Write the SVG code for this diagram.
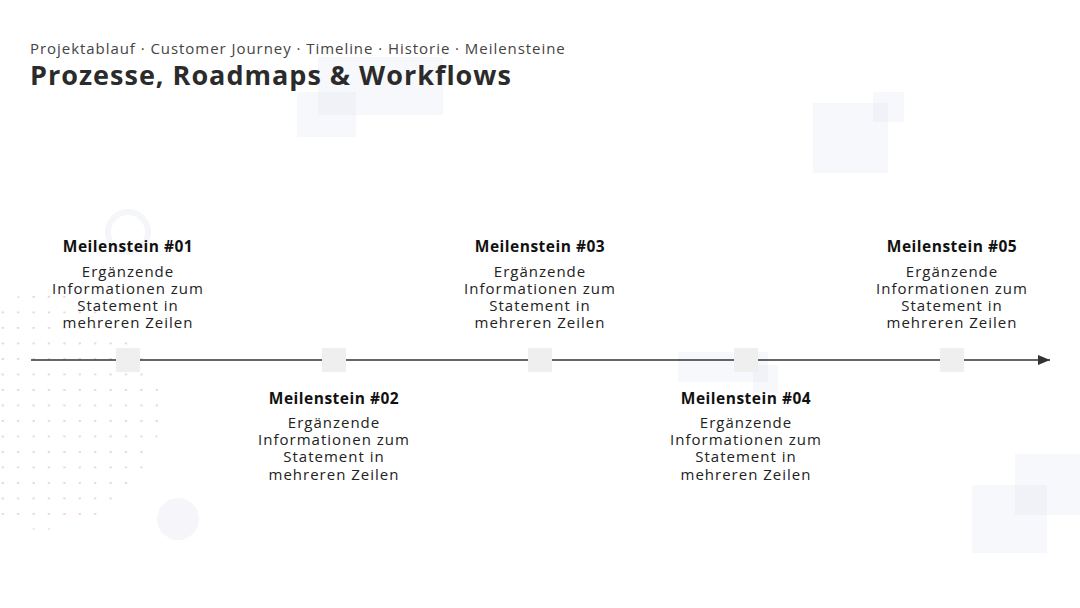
<svg xmlns="http://www.w3.org/2000/svg" width="1080" height="608" viewBox="0 0 1080 608">
  <defs>
    <style>
      .bg { fill: #f7f8fb; }
      .bg2 { fill: #f1f2f8; }
      .sub { font-family: "Open Sans", "Liberation Sans", sans-serif; font-size: 15px; letter-spacing: 0.95px; fill: #444; }
      .title { font-family: "Open Sans", "Liberation Sans", sans-serif; font-size: 27px; font-weight: 700; letter-spacing: 1px; fill: #2b2b2b; }
      .head { font-family: "Open Sans", "Liberation Sans", sans-serif; font-size: 15.5px; font-weight: 700; letter-spacing: 0.5px; fill: #111; text-anchor: middle; }
      .body { font-family: "Open Sans", "Liberation Sans", sans-serif; font-size: 15px; letter-spacing: 1px; fill: #222; text-anchor: middle; }
      .sq { fill: #efefef; }
      .axis { stroke: #333; stroke-width: 1.3; fill: none; }
    </style>
    <pattern id="dots" x="2" y="296" width="15.4" height="15.5" patternUnits="userSpaceOnUse">
      <circle cx="0.8" cy="0.8" r="1.2" fill="#f4cdd3"/>
      <circle cx="16.2" cy="0.8" r="1.2" fill="#f4cdd3"/>
    </pattern>
    <clipPath id="dotclip">
      <circle cx="42" cy="412" r="118"/>
    </clipPath>
    <marker id="arrow" viewBox="0 0 12 10" refX="12" refY="5" markerWidth="12" markerHeight="10" markerUnits="userSpaceOnUse" orient="auto">
      <path d="M0,0 L12,5 L0,10 Z" fill="#333"/>
    </marker>
  </defs>

  <rect width="1080" height="608" fill="#ffffff"/>

  <!-- background decorations -->
  <g id="background">
    <rect class="bg" x="297" y="92" width="59" height="45"/>
    <rect class="bg" x="318" y="57" width="125" height="58"/>
    <rect class="bg2" x="318" y="92" width="38" height="23"/>
    <rect class="bg" x="813" y="103" width="75" height="70"/>
    <rect class="bg" x="873" y="92" width="31" height="30"/>
    <rect class="bg2" x="873" y="103" width="15" height="19"/>
    <rect class="bg" x="1015" y="454" width="65" height="61"/>
    <rect class="bg" x="972" y="485" width="75" height="68"/>
    <rect class="bg2" x="1015" y="485" width="32" height="30"/>
    <rect class="bg" x="678" y="352" width="90" height="30"/>
    <rect class="bg" x="753" y="365" width="25" height="28"/>
    <rect class="bg2" x="753" y="365" width="15" height="17"/>
    <circle cx="128" cy="232" r="20" fill="none" stroke="#f5f6f9" stroke-width="6"/>
    <circle cx="178" cy="519" r="21" fill="#f6f6fa"/>
    <rect x="0" y="290" width="165" height="245" fill="url(#dots)" clip-path="url(#dotclip)"/>
  </g>

  <g id="header">
    <text class="sub" x="30" y="54">Projektablauf · Customer Journey · Timeline · Historie · Meilensteine</text>
    <text class="title" x="30" y="85">Prozesse, Roadmaps &amp; Workflows</text>
  </g>

  <g id="connectors">
    <line class="axis" x1="31" y1="360" x2="1050" y2="360" marker-end="url(#arrow)"/>
  </g>

  <g id="m1">
    <rect class="sq" x="116" y="348" width="24" height="24"/>
    <text class="head" x="128" y="252">Meilenstein #01</text>
    <text class="body" x="128" y="277">Ergänzende</text>
    <text class="body" x="128" y="294">Informationen zum</text>
    <text class="body" x="128" y="311">Statement in</text>
    <text class="body" x="128" y="328">mehreren Zeilen</text>
  </g>

  <g id="m2">
    <rect class="sq" x="322" y="348" width="24" height="24"/>
    <text class="head" x="334" y="404">Meilenstein #02</text>
    <text class="body" x="334" y="428">Ergänzende</text>
    <text class="body" x="334" y="445">Informationen zum</text>
    <text class="body" x="334" y="462">Statement in</text>
    <text class="body" x="334" y="480">mehreren Zeilen</text>
  </g>

  <g id="m3">
    <rect class="sq" x="528" y="348" width="24" height="24"/>
    <text class="head" x="540" y="252">Meilenstein #03</text>
    <text class="body" x="540" y="277">Ergänzende</text>
    <text class="body" x="540" y="294">Informationen zum</text>
    <text class="body" x="540" y="311">Statement in</text>
    <text class="body" x="540" y="328">mehreren Zeilen</text>
  </g>

  <g id="m4">
    <rect class="sq" x="734" y="348" width="24" height="24"/>
    <text class="head" x="746" y="404">Meilenstein #04</text>
    <text class="body" x="746" y="428">Ergänzende</text>
    <text class="body" x="746" y="445">Informationen zum</text>
    <text class="body" x="746" y="462">Statement in</text>
    <text class="body" x="746" y="480">mehreren Zeilen</text>
  </g>

  <g id="m5">
    <rect class="sq" x="940" y="348" width="24" height="24"/>
    <text class="head" x="952" y="252">Meilenstein #05</text>
    <text class="body" x="952" y="277">Ergänzende</text>
    <text class="body" x="952" y="294">Informationen zum</text>
    <text class="body" x="952" y="311">Statement in</text>
    <text class="body" x="952" y="328">mehreren Zeilen</text>
  </g>
</svg>
